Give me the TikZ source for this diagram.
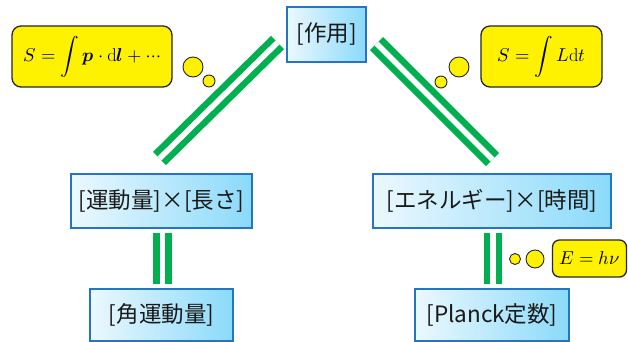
\documentclass[tikz,border=0pt]{standalone}
\usepackage{amsmath}
\usepackage{fontspec}
\usepackage{unicode-math}
\setmathfont{Latin Modern Math}
\newfontfamily\jp{Noto Sans CJK JP}
\definecolor{boxB}{RGB}{36,118,196}
\definecolor{boxL}{RGB}{236,248,254}
\definecolor{boxR}{RGB}{138,218,250}
\definecolor{gr}{RGB}{0,176,80}
\begin{document}
\begin{tikzpicture}[x=1pt,y=-1pt,
  jbox/.style={draw=boxB, line width=1.8pt, left color=boxL, right color=boxR, inner sep=0pt, font=\jp\fontsize{22.5}{26}\selectfont, text=black!90},
  ybox/.style={draw=black!85, line width=1.3pt, fill=yellow, rounded corners=9pt, inner sep=0pt, font=\fontsize{18.6}{22}\selectfont},
  bub/.style={circle, draw=black!85, line width=0.9pt, fill=yellow, inner sep=0pt},
  gline/.style={draw=gr, line width=6.5pt, double=white, double distance=5.5pt}]
\useasboundingbox (0,0) rectangle (628,342);
\fill[white] (0,0) rectangle (628,342);
% main boxes
\node[jbox, minimum width=79pt, minimum height=55pt] (top) at (326.5,34.5) {[作用]};
\node[jbox, minimum width=181pt, minimum height=54pt] (lm) at (161.5,201) {[運動量]×[長さ]};
\node[jbox, minimum width=238pt, minimum height=54pt] (rm) at (492,201) {[エネルギー]×[時間]};
\node[jbox, minimum width=143pt, minimum height=52pt] (lb) at (161.5,315) {[角運動量]};
\node[jbox, minimum width=154pt, minimum height=52pt] (rb) at (492,315) {[Planck定数]};
% formula boxes
\node[ybox, minimum width=160pt, minimum height=61pt] (lf) at (92,56.5) {$S=\displaystyle\int \symbfit{p}\cdot \mathrm{d}\symbfit{l}+\cdots$};
\node[ybox, minimum width=121pt, minimum height=61pt] (rf) at (541.5,56.5) {$S=\displaystyle\int L\mathrm{d}t$};
\node[ybox, rounded corners=7pt, minimum width=74pt, minimum height=37pt] (ef) at (589.5,258.5) {$E=h\nu$};
% bubbles
\node[bub, minimum size=20pt] (lb1) at (193,67) {};
\node[bub, minimum size=12pt] (lb2) at (209,81) {};
\node[bub, minimum size=20pt] (rb1) at (459,67) {};
\node[bub, minimum size=12pt] (rb2) at (441,82) {};
\node[bub, minimum size=11pt] (eb1) at (515,259) {};
\node[bub, minimum size=18pt] (eb2) at (535,259) {};
% connectors
\coordinate (d1a) at (277.5,42.5);
\coordinate (d1b) at (159.5,158.5);
\coordinate (d2a) at (376.5,43.5);
\coordinate (d2b) at (492.5,159.5);
\coordinate (v1a) at (162.5,233);
\coordinate (v1b) at (162.5,284);
\coordinate (v2a) at (493,233);
\coordinate (v2b) at (493,284);
\draw[gline] (d1a) -- (d1b);
\draw[gline] (d2a) -- (d2b);
\draw[gline] (v1a) -- (v1b);
\draw[gline] (v2a) -- (v2b);
\end{tikzpicture}
\end{document}
